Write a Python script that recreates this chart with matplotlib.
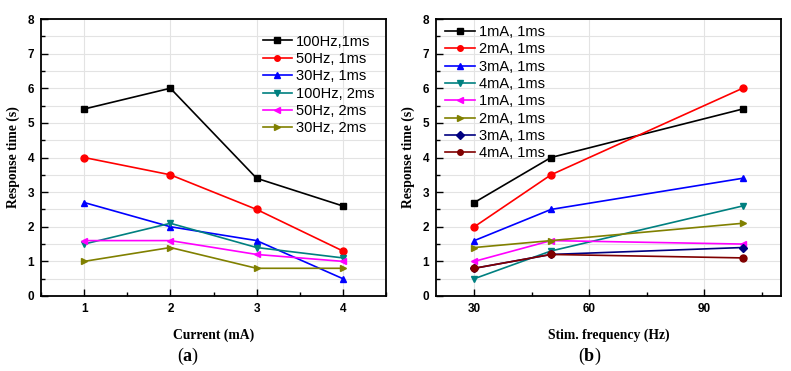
import numpy as np
import matplotlib
matplotlib.use('Agg')
import matplotlib.pyplot as plt
from matplotlib.ticker import MultipleLocator

# --- data, panel (a) ---
current_ma = [1, 2, 3, 4]
labels_a = ['100Hz,1ms', '50Hz, 1ms', '30Hz, 1ms', '100Hz, 2ms', '50Hz, 2ms', '30Hz, 2ms']
hz100_1ms = [5.4, 6.0, 3.4, 2.6]
hz50_1ms = [4.0, 3.5, 2.5, 1.3]
hz30_1ms = [2.7, 2.0, 1.6, 0.5]
hz100_2ms = [1.5, 2.1, 1.4, 1.1]
hz50_2ms = [1.6, 1.6, 1.2, 1.0]
hz30_2ms = [1.0, 1.4, 0.8, 0.8]

# --- data, panel (b) ---
freq_hz = [30, 50, 100]
labels_b = ['1mA, 1ms', '2mA, 1ms', '3mA, 1ms', '4mA, 1ms',
            '1mA, 1ms', '2mA, 1ms', '3mA, 1ms', '4mA, 1ms']
ma1_a = [2.7, 4.0, 5.4]
ma2_a = [2.0, 3.5, 6.0]
ma3_a = [1.6, 2.5, 3.4]
ma4_a = [0.5, 1.3, 2.6]
ma1_b = [1.0, 1.6, 1.5]
ma2_b = [1.4, 1.6, 2.1]
ma3_b = [0.8, 1.2, 1.4]
ma4_b = [0.8, 1.2, 1.1]

colors = ['black', '#ff0000', '#0000ff', '#008080', '#ff00ff', '#808000', '#000080', '#800000']
markers = ['s', 'o', '^', 'v', '<', '>', 'D', 'o']

sans = ['Liberation Sans', 'DejaVu Sans']
serif = ['Liberation Serif', 'DejaVu Serif']

plt.rcParams['mathtext.fontset'] = 'custom'
plt.rcParams['mathtext.bf'] = 'Liberation Serif:bold'
plt.rcParams['mathtext.rm'] = 'Liberation Serif'

fig = plt.figure(figsize=(7.91, 3.71), dpi=100)
ax_a = fig.add_axes([41 / 791, 1 - 296 / 371, 345 / 791, 277 / 371])
ax_b = fig.add_axes([436 / 791, 1 - 296 / 371, 345 / 791, 277 / 371])


def style_axis(ax):
    ax.set_ylim(0, 8)
    ax.yaxis.set_major_locator(MultipleLocator(1))
    ax.yaxis.set_minor_locator(MultipleLocator(0.5))
    ax.grid(which='major', axis='both', color='#e3e3e3', lw=0.8, zorder=0)
    ax.grid(which='minor', axis='y', color='#e3e3e3', lw=0.8, zorder=0)
    ax.set_axisbelow(True)
    ax.tick_params(which='both', direction='in', top=False, right=False)
    ax.tick_params(which='major', length=5, width=1, pad=5)
    ax.tick_params(which='minor', length=3, width=1)
    for s in ax.spines.values():
        s.set_linewidth(1.3)
    for lab in ax.get_xticklabels() + ax.get_yticklabels():
        lab.set_family(sans)
        lab.set_fontweight('bold')
        lab.set_fontsize(8.5)
    ax.set_ylabel('Response time (s)', family=serif, fontweight='bold', fontsize=9.8, labelpad=5)


leg_kw = dict(frameon=False, prop={'family': sans, 'size': 10.5}, markerscale=0.8,
              handlelength=2.05, handletextpad=0.25, labelspacing=0.23)

# panel (a)
series_a = [hz100_1ms, hz50_1ms, hz30_1ms, hz100_2ms, hz50_2ms, hz30_2ms]
for vals, lab, c, m in zip(series_a, labels_a, colors, markers):
    ax_a.plot(current_ma, vals, color=c, marker=m, ms=5, lw=1.2, label=lab, zorder=3)
ax_a.set_xlim(0.5, 4.5)
ax_a.xaxis.set_major_locator(MultipleLocator(1))
ax_a.xaxis.set_minor_locator(MultipleLocator(0.5))
style_axis(ax_a)
ax_a.set_xlabel('Current (mA)', family=serif, fontweight='bold', fontsize=9.8, labelpad=10)
ax_a.legend(loc='upper right', borderaxespad=0.1, bbox_to_anchor=(0.988, 0.97), **leg_kw)

# panel (b)
series_b = [ma1_a, ma2_a, ma3_a, ma4_a, ma1_b, ma2_b, ma3_b, ma4_b]
for vals, lab, c, m in zip(series_b, labels_b, colors, markers):
    ms = 4.5 if m == 'D' else 5
    ax_b.plot(freq_hz, vals, color=c, marker=m, ms=ms, lw=1.2, label=lab, zorder=3)
ax_b.set_xlim(20, 110)
ax_b.xaxis.set_major_locator(MultipleLocator(30))
ax_b.xaxis.set_minor_locator(MultipleLocator(15))
style_axis(ax_b)
ax_b.set_xlabel('Stim. frequency (Hz)', family=serif, fontweight='bold', fontsize=9.8, labelpad=10)
ax_b.legend(loc='upper left', borderaxespad=0.1, bbox_to_anchor=(0.005, 1.005), **leg_kw)

# panel letters
for x, letter in [(188, 'a'), (590, 'b')]:
    fig.text(x / 791, 1 - 356 / 371, r'$\mathrm{(}\mathbf{' + letter + r'}\mathrm{)}$',
             fontsize=13, ha='center', va='center')

fig.savefig('out.png', dpi=100)
